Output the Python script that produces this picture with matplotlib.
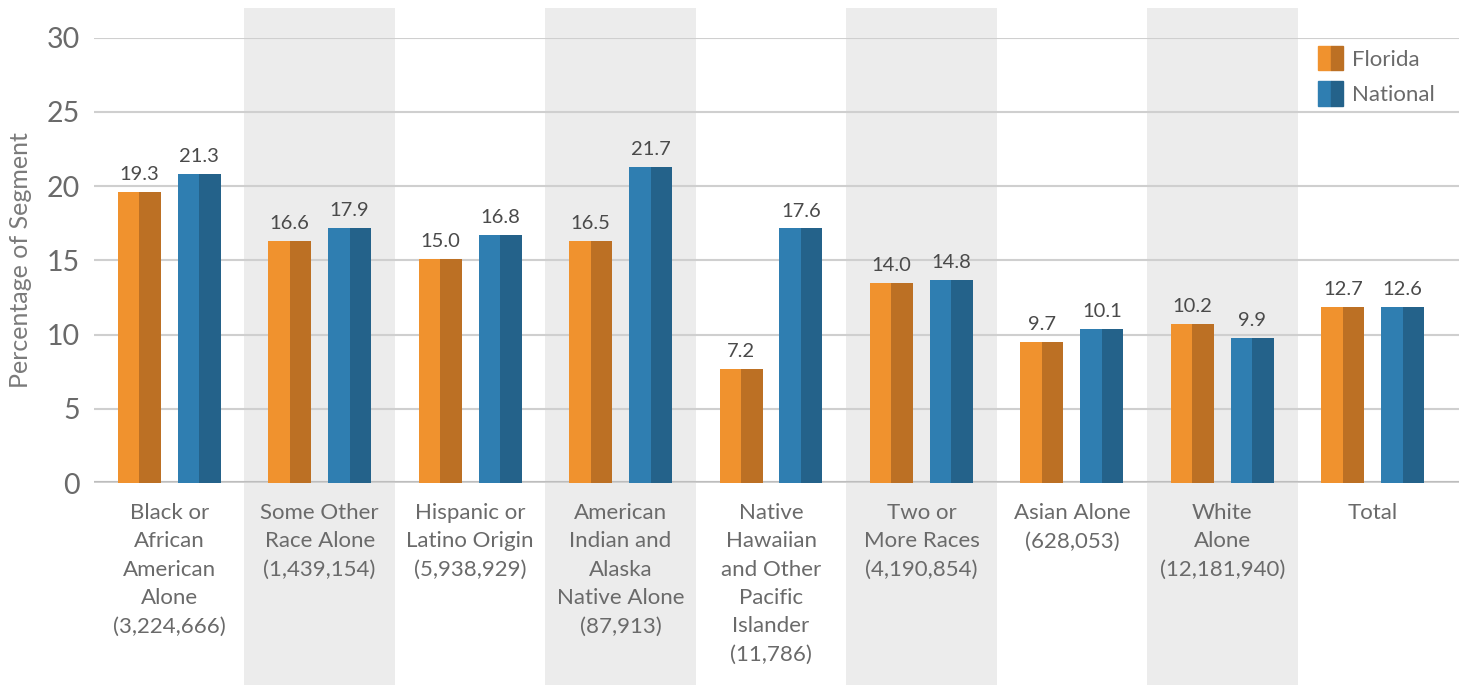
import matplotlib
matplotlib.use("Agg")
import matplotlib.pyplot as plt
from matplotlib.patches import Patch, Rectangle
from matplotlib.legend_handler import HandlerTuple
from matplotlib.transforms import blended_transform_factory
import numpy as np

plt.rcParams['font.family'] = ['Lato', 'DejaVu Sans']

categories = [
    "Black or\nAfrican\nAmerican\nAlone\n(3,224,666)",
    "Some Other\nRace Alone\n(1,439,154)",
    "Hispanic or\nLatino Origin\n(5,938,929)",
    "American\nIndian and\nAlaska\nNative Alone\n(87,913)",
    "Native\nHawaiian\nand Other\nPacific\nIslander\n(11,786)",
    "Two or\nMore Races\n(4,190,854)",
    "Asian Alone\n(628,053)",
    "White\nAlone\n(12,181,940)",
    "Total",
]
# bar heights as drawn in the source chart
florida_bars = [19.6, 16.3, 15.1, 16.3, 7.7, 13.5, 9.5, 10.7, 11.85]
national_bars = [20.85, 17.2, 16.7, 21.3, 17.15, 13.7, 10.4, 9.8, 11.85]
# printed value labels
florida_labels = ["19.3", "16.6", "15.0", "16.5", "7.2", "14.0", "9.7", "10.2", "12.7"]
national_labels = ["21.3", "17.9", "16.8", "21.7", "17.6", "14.8", "10.1", "9.9", "12.6"]
y_ticks = [0, 5, 10, 15, 20, 25, 30]

fl_light, fl_dark = "#F0922E", "#BC7024"
na_light, na_dark = "#2F7EB1", "#24628A"

W, H = 1468, 685
fig = plt.figure(figsize=(W / 100, H / 100), dpi=100)
ax = fig.add_axes([94 / W, 1 - 483 / H, (1459 - 94) / W, (483 - 37.7) / H])

x = np.arange(len(categories))
bw = 43 / 150.5
off = 30 / 150.5

# alternating shaded bands, running to the bottom of the figure
trans = blended_transform_factory(ax.transData, fig.transFigure)
for i in x[1::2]:
    ax.add_patch(Rectangle((i - 0.5, 0), 1, 1 - 8 / H, transform=trans,
                           facecolor="#ECECEC", edgecolor="none",
                           zorder=0, clip_on=False))


def two_tone(xc, vals, light, dark):
    ax.bar(xc - bw / 4, vals, bw / 2, color=light, zorder=3, linewidth=0)
    ax.bar(xc + bw / 4, vals, bw / 2, color=dark, zorder=3, linewidth=0)


two_tone(x - off, florida_bars, fl_light, fl_dark)
two_tone(x + off, national_bars, na_light, na_dark)

for xs, vals, labs in [(x - off, florida_bars, florida_labels),
                       (x + off, national_bars, national_labels)]:
    for xi, v, lab in zip(xs, vals, labs):
        ax.annotate(lab, (xi, v), xytext=(0, 8.5), textcoords="offset points",
                    ha="center", va="baseline", fontsize=14.5, color="#4a4a4a",
                    zorder=4)

ax.set_xlim(-0.5, 8.5 + 11 / 150.5)
ax.set_ylim(0, 30)
ax.set_yticks(y_ticks)
ax.set_yticklabels([str(t) for t in y_ticks], fontsize=20.5, color="#6a6a6a")
ax.set_xticks(x)
ax.set_xticklabels(categories, fontsize=16, color="#6a6a6a", va="top")
plt.setp(ax.get_xticklabels(), linespacing=1.52)
ax.tick_params(axis="both", length=0)
ax.tick_params(axis="y", pad=10)
ax.tick_params(axis="x", pad=14.5)

ax.grid(axis="y", color="#CFCFCF", linewidth=1.5, zorder=1)
ax.set_axisbelow(False)
for s in ax.spines.values():
    s.set_visible(False)
ax.axhline(0, color="#BDBDBD", linewidth=3, zorder=2)

ax.set_ylabel("Percentage of Segment", fontsize=18, color="#7a7a7a", labelpad=11)

handles = [(Patch(color=fl_light), Patch(color=fl_dark)),
           (Patch(color=na_light), Patch(color=na_dark))]
fig.legend(handles, ["Florida", "National"],
           handler_map={tuple: HandlerTuple(ndivide=None, pad=0)},
           loc="upper left", bbox_to_anchor=(1318 / W, 1 - 46 / H),
           frameon=False, prop={"size": 16}, labelcolor="#6a6a6a",
           handlelength=1.13, handleheight=1.3, handletextpad=0.4,
           labelspacing=0.5, borderpad=0, borderaxespad=0)

fig.savefig("out.png", dpi=100)
